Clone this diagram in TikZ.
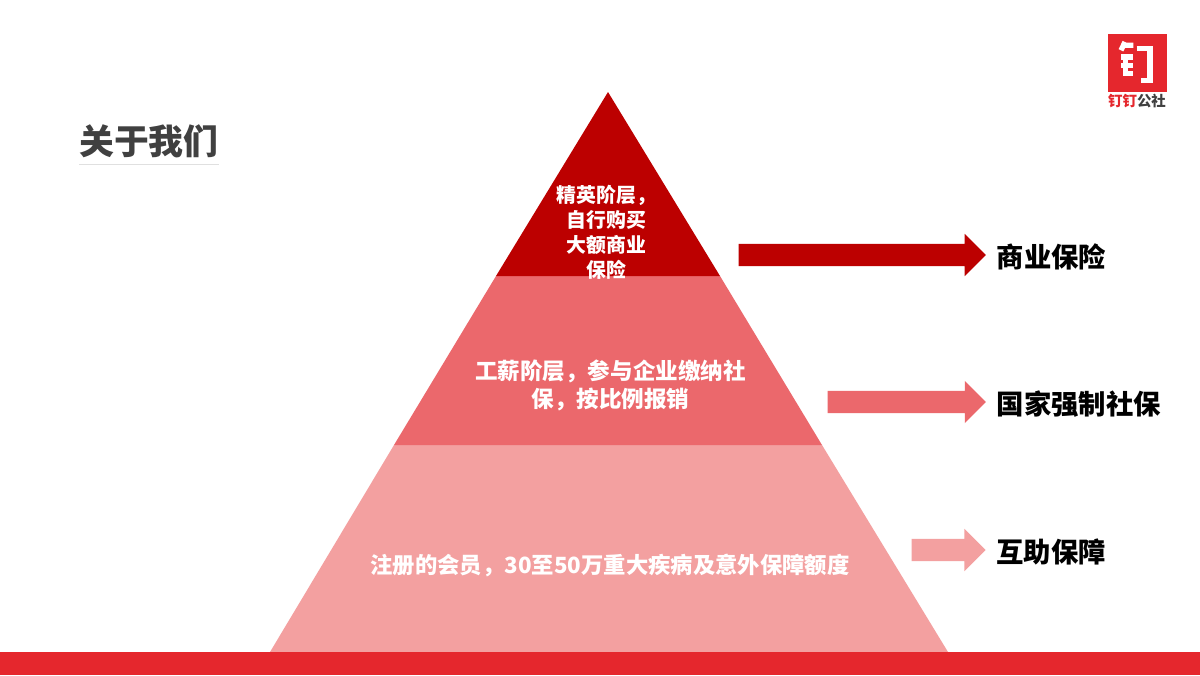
\documentclass[tikz,border=0pt]{standalone}
\usepackage{fontspec}
\usepackage{xcolor}
\usepackage{tikz}
\usetikzlibrary{positioning,shapes.arrows}
\newfontfamily\cjk{Noto Sans CJK SC}
\definecolor{topred}{HTML}{BC0000}
\definecolor{midred}{HTML}{EB686C}
\definecolor{lowred}{HTML}{F3A0A0}
\definecolor{bandred}{HTML}{E5272D}
\definecolor{titlegrey}{HTML}{404040}
\tikzset{
  layertext/.style={text=white,font=\cjk\bfseries\fontsize{#1}{8}\selectfont,align=center,inner sep=0pt},
  arrowbox/.style={single arrow,draw=none,anchor=west,inner sep=0pt,minimum height=#1,
    text height=5.97pt,text depth=0pt,text width=0pt,single arrow head extend=2.85pt,single arrow tip angle=90},
  sidetext/.style={font=\cjk\bfseries\fontsize{7.78}{9}\selectfont,text=black,inner sep=0pt,yshift=-0.57pt},
  logostroke/.style={white,line width=1.5pt},
}
\begin{document}
\begin{tikzpicture}[x=0.01cm,y=-0.01cm]
  \useasboundingbox (0,0) rectangle (1200,675);
  \fill[white] (0,0) rectangle (1200,675);
  % pyramid
  \fill[lowred] (394,445) -- (822,445) -- (948,652) -- (270,652) -- cycle;
  \fill[midred] (496,276) -- (720,276) -- (822,445) -- (394,445) -- cycle;
  \fill[topred] (608,92) -- (720,276) -- (496,276) -- cycle;
  \fill[bandred] (0,652) rectangle (1200,675);
  \node[layertext=5.65,font=\cjk\bfseries\fontsize{5.65}{7.05}\selectfont] (top) at (606.5,232.5) {精英阶层，\\自行购买\\大额商业\\保险};
  \node[layertext=6.42] (mid) at (610.5,385.5) {工薪阶层，参与企业缴纳社\\保，按比例报销};
  \node[layertext=6.35] (low) at (610,566) {注册的会员，30至50万重大疾病及意外保障额度};
  % arrows
  \node[arrowbox=70.3pt,fill=topred] (a1) at (738,255) {};
  \node[arrowbox=45pt,fill=midred] (a2) at (827,402) {};
  \node[arrowbox=21pt,fill=lowred] (a3) at (911,550) {};
  \node[sidetext,right=2.6pt of a1.tip] (t1) {商业保险};
  \node[sidetext,right=2.6pt of a2.tip] (t2) {国家强制社保};
  \node[sidetext,right=2.6pt of a3.tip] (t3) {互助保障};
  % title
  \node[font=\cjk\bfseries\fontsize{9.9}{12}\selectfont,text=titlegrey,inner sep=0pt,anchor=west] (title) at (78.5,141) {关于我们};
  \draw[black!12,line width=0.4pt] (79,164.5) -- (219,164.5);
  % logo
  \fill[bandred] (1108,34) rectangle (1167,92);
  \draw[logostroke] (1125,42) -- (1121,50.3) (1122,45.3) -- (1133.3,45.3);
  \draw[logostroke] (1121,57) -- (1133.3,57) (1121,65.3) -- (1133.3,65.3);
  \draw[logostroke] (1125.7,57) -- (1125.7,73.7) -- (1133.3,73.7);
  \draw[logostroke] (1136.7,48.7) -- (1150,48.7) -- (1150,80.3) -- (1141,80.3);
  \node[font=\cjk\bfseries\fontsize{4.1}{5}\selectfont,inner sep=0pt] (logotext) at (1137,101) {\textcolor{bandred}{钉钉}\textcolor{titlegrey}{公社}};
\end{tikzpicture}
\end{document}
